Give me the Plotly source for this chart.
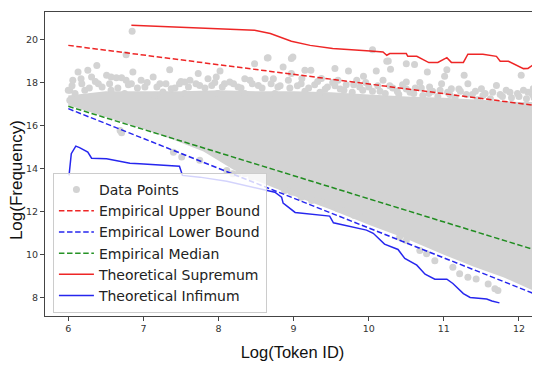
import plotly.graph_objects as go

# ---------------- data ----------------
# dense part of the scatter cloud: outline (upper edge left->right, lower edge right->left)
cloud_top_x = [6.0, 6.5, 7.0, 7.5, 8.0, 8.5, 9.0, 9.5, 10.0, 10.5, 11.0, 11.5, 12.0, 12.22]
cloud_top_y = [17.4, 17.6, 17.6, 17.6, 17.65, 17.6, 17.6, 17.55, 17.45, 17.35, 17.3, 17.2, 17.1, 17.1]
cloud_bot_x = [12.22, 11.8, 11.4, 11.0, 10.5, 10.0, 9.5, 9.0, 8.5, 8.2, 7.8, 7.4, 7.0, 6.5, 6.0]
cloud_bot_y = [8.3, 8.95, 9.45, 10.0, 10.75, 11.4, 12.1, 12.75, 13.45, 13.95, 14.8, 15.35, 15.85, 16.4, 16.95]

# individual points (upper fringe of the cloud, outliers, lower fringe)
pts_x = [6.85, 6.77, 6.02, 6.06, 6.13, 6.17, 6.26, 6.31, 6.38, 6.40, 6.51, 6.57, 6.64, 6.71, 6.77, 6.86,
         6.84, 6.97, 7.02, 7.13, 7.22, 7.26, 7.35, 7.37, 7.48, 7.55, 7.62, 7.73, 7.75, 7.86, 7.91, 7.97,
         8.02, 8.08, 8.15, 8.26, 8.35, 8.42, 8.48, 8.53, 8.62, 8.66, 8.73, 8.79, 8.86, 8.93, 8.99, 6.09,
         6.22, 6.57, 6.75, 7.15, 7.55, 7.99, 8.35, 8.75, 8.97, 6.0, 6.02,
         9.15, 9.23, 9.55, 9.73, 9.93, 9.11, 9.37, 9.59, 9.84, 8.65, 8.97,
         9.05, 9.15, 9.28, 9.35, 9.45, 9.52, 9.62, 9.70, 9.78, 9.88, 9.96, 10.05, 10.12, 10.22, 10.32,
         10.40, 10.45, 10.55, 10.62, 10.72, 10.85, 10.92, 11.05, 11.15, 11.22, 11.38, 11.45, 11.55, 11.62,
         11.75, 11.90, 11.98, 12.10, 12.18,
         6.05, 6.18, 6.28, 6.36, 6.45, 6.55, 6.66, 6.80, 6.92, 7.05, 7.18, 7.30, 7.42, 7.50, 7.60, 7.70,
         7.82, 7.95, 8.05, 8.20, 8.30, 8.45, 8.58, 8.70, 8.82, 8.95,
         9.10, 9.20, 9.32, 9.42, 9.55, 9.67, 9.80, 9.92, 10.00, 10.15, 10.28, 10.38, 10.50, 10.60, 10.70,
         10.80, 10.95, 11.08, 11.20, 11.30, 11.42, 11.52, 11.65, 11.78, 11.88, 12.00, 12.12, 12.20,
         10.05, 10.26, 10.50, 10.61, 10.10, 10.29, 10.78, 11.04, 11.01, 11.27, 12.03, 10.19, 10.50, 10.68,
         10.97, 11.32, 11.50, 11.70, 11.83, 12.06, 12.19, 11.10, 10.81, 10.24,
         6.71, 6.69, 7.40, 7.51, 7.75, 8.11, 8.19, 8.26, 8.35, 8.44, 8.88, 8.97, 9.10, 9.24, 9.37,
         9.59, 9.68, 9.81, 9.90, 10.41, 10.50, 10.68, 10.77, 10.88, 11.12, 11.21, 11.32, 11.43, 11.59,
         11.68, 11.72]
pts_y = [20.39, 19.30, 17.64, 18.11, 18.49, 18.18, 18.57, 18.26, 18.80, 17.95, 18.34, 18.26, 18.23, 18.23, 18.11, 18.49,
         17.95, 18.11, 17.80, 18.26, 17.95, 17.56, 18.60, 17.72, 17.95, 18.03, 18.11, 18.42, 17.87, 18.18, 17.87, 18.26,
         18.54, 17.95, 18.03, 17.80, 18.18, 18.11, 18.88, 17.87, 18.18, 19.16, 18.18, 17.80, 18.73, 18.11, 19.19, 17.49,
         17.64, 17.64, 17.49, 17.41, 17.49, 17.49, 17.49, 17.49, 18.42, 17.64, 17.18,
         18.57, 18.57, 18.65, 18.54, 18.29, 18.19, 18.19, 18.11, 18.11, 19.14, 19.12,
         17.85, 17.60, 17.90, 17.55, 17.80, 18.00, 17.70, 17.90, 17.55, 17.80, 18.00, 17.60, 17.85, 17.50, 17.75,
         17.45, 17.90, 17.55, 17.75, 17.40, 17.60, 17.35, 17.55, 17.30, 17.60, 17.45, 17.20, 17.50, 17.25,
         17.45, 17.30, 17.50, 17.25, 17.45,
         17.85, 17.95, 17.75, 18.05, 17.80, 17.95, 17.75, 17.90, 17.75, 18.00, 17.80, 17.95, 17.75, 18.05, 17.80, 17.95,
         17.75, 18.00, 17.80, 17.95, 17.75, 17.95, 17.75, 17.95, 17.85, 17.75,
         17.95, 17.75, 18.05, 17.70, 17.85, 17.65, 17.90, 17.65, 17.80, 17.60, 17.85, 17.60, 17.70, 17.50, 17.75,
         17.50, 17.65, 17.45, 17.70, 17.45, 17.60, 17.40, 17.55, 17.35, 17.55, 17.35, 17.55, 17.30,
         19.53, 19.0, 18.88, 18.84, 18.54, 18.62, 18.49, 18.60, 18.29, 18.34, 18.34, 18.11, 18.03, 18.0,
         17.95, 17.95, 17.72, 17.87, 17.64, 17.64, 17.72, 17.72, 17.80, 18.99,
         15.67, 15.78, 14.77, 14.54, 14.39, 13.92, 13.77, 13.77, 13.77, 13.61, 12.99, 12.91, 12.68, 12.53, 12.45,
         12.14, 12.06, 11.83, 11.75, 10.82, 10.67, 10.20, 10.05, 9.73, 9.42, 9.12, 8.96, 8.88, 8.65,
         8.42, 8.34]

# empirical bounds (straight fits)
emp_x = [6.0, 12.22]
emp_upper = [19.73, 16.94]
emp_lower = [16.79, 8.17]
emp_median = [16.9, 10.22]

# theoretical supremum
sup_x = [6.84, 8.48, 8.69, 8.97, 9.22, 9.52, 10.02, 10.19, 10.24, 10.28, 10.50, 10.52, 10.64, 10.80, 10.92,
         11.04, 11.10, 11.26, 11.32, 11.52, 11.70, 11.75, 11.86, 12.06, 12.12, 12.20]
sup_y = [20.66, 20.43, 20.28, 19.92, 19.73, 19.58, 19.47, 19.42, 19.27, 19.35, 19.35, 19.22, 19.22, 18.93, 18.94,
         19.16, 18.94, 18.94, 19.32, 19.32, 19.22, 18.99, 18.99, 18.65, 18.66, 18.85]

# theoretical infimum
inf_x = [6.01, 6.02, 6.04, 6.10, 6.15, 6.26, 6.31, 6.51, 6.82, 6.95, 7.48, 7.52, 7.75, 8.11, 8.45, 8.75, 8.84,
         8.86, 9.02, 9.48, 9.53, 9.97, 10.06, 10.21, 10.39, 10.48, 10.64, 10.75, 10.88, 11.04, 11.12, 11.26,
         11.35, 11.57, 11.64, 11.74]
inf_y = [13.69, 14.15, 14.70, 15.05, 14.98, 14.77, 14.49, 14.46, 14.26, 14.23, 14.12, 13.69, 13.61, 13.42, 13.15, 12.91, 12.68,
         12.40, 11.97, 11.80, 11.49, 11.15, 11.0, 10.50, 10.25, 9.83, 9.52, 9.10, 8.87, 8.87, 8.67, 8.20,
         8.02, 7.95, 7.86, 7.77]

x_ticks = [6, 7, 8, 9, 10, 11, 12]
y_ticks = [8, 10, 12, 14, 16, 18, 20]

GRAY = "#d3d3d3"
DASH = "5.5px,2.6px"
LEG_FONT = "DejaVu Sans, sans-serif"
TITLE_FONT = "Liberation Sans, Arial, sans-serif"
TICK_FONT = "DejaVu Sans, sans-serif"
RED = "rgba(235,0,0,0.85)"
BLUE = "rgba(0,0,235,0.85)"
GREEN = "rgba(0,128,0,0.85)"

fig = go.Figure()

# dense cloud as filled outline
fig.add_trace(go.Scatter(
    x=cloud_top_x + cloud_bot_x, y=cloud_top_y + cloud_bot_y,
    mode="lines", fill="toself", fillcolor=GRAY,
    line=dict(width=0, color=GRAY), showlegend=False, hoverinfo="skip"))

fig.add_trace(go.Scatter(
    x=pts_x, y=pts_y, mode="markers", name="Data Points",
    marker=dict(color=GRAY, size=7, line=dict(width=0))))

fig.add_trace(go.Scatter(x=emp_x, y=emp_upper, mode="lines", name="Empirical Upper Bound",
                         line=dict(color=RED, width=1.5, dash=DASH)))
fig.add_trace(go.Scatter(x=emp_x, y=emp_lower, mode="lines", name="Empirical Lower Bound",
                         line=dict(color=BLUE, width=1.5, dash=DASH)))
fig.add_trace(go.Scatter(x=emp_x, y=emp_median, mode="lines", name="Empirical Median",
                         line=dict(color=GREEN, width=1.5, dash=DASH)))
fig.add_trace(go.Scatter(x=sup_x, y=sup_y, mode="lines", name="Theoretical Supremum",
                         line=dict(color=RED, width=1.5)))
fig.add_trace(go.Scatter(x=inf_x, y=inf_y, mode="lines", name="Theoretical Infimum",
                         line=dict(color=BLUE, width=1.5)))

# the page body adds an 8px offset; the figure is sized so the plot lands where the reference has it
fig.update_layout(
    width=532, height=364,
    margin=dict(l=37, r=0, t=4, b=56),
    plot_bgcolor="white", paper_bgcolor="white",
    showlegend=True,
    legend=dict(x=0.016, y=0.01, xanchor="left", yanchor="bottom",
                bgcolor="rgba(255,255,255,0.8)", bordercolor="#cccccc", borderwidth=1,
                font=dict(family=LEG_FONT, size=14, color="#222"),
                tracegroupgap=0, itemwidth=35),
    annotations=[dict(text="Log(Frequency)", textangle=-90, xref="paper", yref="paper",
                      x=-0.0586, y=0.447, xanchor="center", yanchor="middle", showarrow=False,
                      font=dict(family=TITLE_FONT, size=17, color="#111"))],
)

fig.update_xaxes(
    range=[5.69, 12.28], tickvals=x_ticks, ticktext=[str(v) for v in x_ticks],
    showgrid=False, zeroline=False, showline=True, linecolor="#444", linewidth=1, mirror=True,
    ticks="outside", ticklen=4, tickcolor="#444",
    tickfont=dict(family=TICK_FONT, size=9.5, color="#333"),
    title=dict(text="Log(Token ID)", font=dict(family=TITLE_FONT, size=16.5, color="#111"), standoff=13),
    automargin=False)
fig.update_yaxes(
    range=[7.16, 21.28], tickvals=y_ticks, ticktext=[str(v) for v in y_ticks],
    showgrid=False, zeroline=False, showline=True, linecolor="#444", linewidth=1,
    ticks="outside", ticklen=4, tickcolor="#444",
    tickfont=dict(family=TICK_FONT, size=9.5, color="#333"),
    automargin=False)

fig.write_html("out.html")
